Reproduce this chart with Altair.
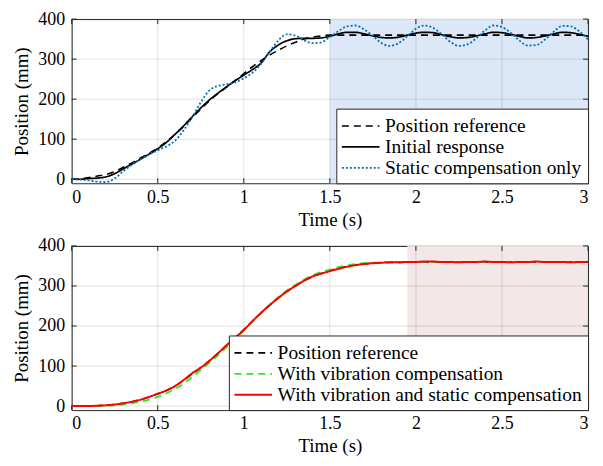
import altair as alt
import pandas as pd

# ---------------- data ----------------
time_s = [0.00, 0.05, 0.10, 0.15, 0.20, 0.25, 0.30, 0.35, 0.40, 0.45,
          0.50, 0.55, 0.60, 0.65, 0.70, 0.75, 0.80, 0.85, 0.90, 0.95,
          1.00, 1.05, 1.10, 1.15, 1.20, 1.25, 1.30, 1.35, 1.40, 1.45,
          1.50, 1.55, 1.60, 1.65, 1.70, 1.75, 1.80, 1.85, 1.90, 1.95,
          2.00, 2.05, 2.10, 2.15, 2.20, 2.25, 2.30, 2.35, 2.40, 2.45,
          2.50, 2.55, 2.60, 2.65, 2.70, 2.75, 2.80, 2.85, 2.90, 2.95,
          3.00]

top_reference = [0, 1, 4, 8, 12, 19, 30, 41, 53, 65,
                 78, 94, 112, 132, 154, 175, 196, 214, 230, 247,
                 264, 281, 296, 310, 322, 333, 342, 350, 355, 358,
                 360, 360, 360, 360, 360, 360, 360, 360, 360, 360,
                 360, 360, 360, 360, 360, 360, 360, 360, 360, 360,
                 360, 360, 360, 360, 360, 360, 360, 360, 360, 360,
                 360]

top_initial = [0, 0, 2, 3, 6, 14, 26, 38, 50, 63,
               76, 92, 112, 133, 156, 178, 198, 215, 231, 246,
               260, 274, 290, 318, 335, 346, 351, 352, 352, 353,
               357, 363, 367, 367, 363, 358, 354, 353, 355, 360,
               365, 367, 366, 361, 356, 353, 354, 358, 363, 367,
               366, 362, 357, 353, 354, 358, 363, 367, 366, 362,
               357]

top_static = [0, -1, -3, -6, -7, 2, 20, 36, 50, 62,
              72, 82, 96, 122, 155, 192, 222, 233, 237, 242,
              252, 266, 288, 318, 346, 362, 359, 347, 340, 342,
              355, 370, 382, 384, 374, 358, 340, 333, 340, 357,
              376, 384, 378, 362, 343, 333, 337, 352, 371, 384,
              380, 366, 347, 334, 335, 349, 368, 383, 382, 369,
              349]

bot_reference = [0, 0, 0, 1, 2, 4, 7, 11, 16, 23,
                 30, 39, 50, 64, 80, 96, 113, 132, 152, 171,
                 191, 212, 232, 252, 270, 286, 300, 313, 323, 331,
                 338, 344, 349, 353, 355, 357, 358, 359, 359, 360,
                 360, 360, 360, 360, 360, 360, 360, 360, 360, 360,
                 360, 360, 360, 360, 360, 360, 360, 360, 360, 360,
                 360]

bot_vibration = [0, 0, 0, 0, 1, 2, 4, 7, 11, 16,
                 23, 32, 43, 56, 73, 90, 108, 127, 147, 168,
                 189, 211, 233, 253, 272, 289, 303, 316, 327, 335,
                 341, 347, 351, 355, 357, 358, 359, 360, 360, 360,
                 360, 360, 360, 360, 360, 360, 360, 360, 360, 360,
                 360, 360, 360, 360, 360, 360, 360, 360, 360, 360,
                 360]

bot_vib_static = [0, 0, 0, 1, 2, 4, 7, 11, 16, 23,
                  31, 39, 50, 65, 82, 96, 113, 132, 152, 171,
                  190, 212, 233, 252, 270, 286, 300, 313, 324, 331,
                  337, 343, 348, 352, 355, 357, 358, 359, 359, 360,
                  360, 361, 361, 360, 360, 359, 360, 360, 361, 360,
                  360, 359, 360, 360, 361, 360, 360, 360, 359, 360,
                  360]

top_names = ["Position reference", "Initial response", "Static compensation only"]
bot_names = ["Position reference", "With vibration compensation",
             "With vibration and static compensation"]

x_ticks = [0, 0.5, 1, 1.5, 2, 2.5, 3]
y_ticks = [0, 100, 200, 300, 400]
top_shade = [1.5, 3.0]
bot_shade = [1.95, 3.0]

# ---------------- styling ----------------
W, H = 519, 165
FONT = "Liberation Serif"
xs = alt.Scale(domain=[0, 3], nice=False, zero=False)
ys = alt.Scale(domain=[-10, 400], nice=False, zero=False)

X_AX = alt.Axis(values=x_ticks, format="~g", title="Time (s)", grid=False,
                ticks=False, domain=False, labelPadding=5, titlePadding=4)
Y_AX = alt.Axis(values=y_ticks, title="Position (mm)", grid=False,
                ticks=False, domain=False, labelPadding=7, titlePadding=6)


def panel(names, series, colors, dashes, widths, shade, shade_color):
    rows = []
    for name, vals in zip(names, series):
        for t, v in zip(time_s, vals):
            rows.append({"t": t, "v": v, "s": name})
    df = pd.DataFrame(rows)
    xt = pd.DataFrame({"t": x_ticks})
    yt = pd.DataFrame({"v": y_ticks})
    sh = pd.DataFrame({"a": [shade[0]], "b": [shade[1]]})

    rect = alt.Chart(sh).mark_rect(color=shade_color).encode(
        x=alt.X("a:Q", scale=xs, axis=X_AX), x2="b:Q",
        y=alt.value(0), y2=alt.value(H))
    xgrid = alt.Chart(xt).mark_rule(color="black", opacity=0.12, strokeWidth=1).encode(
        x=alt.X("t:Q", scale=xs, axis=X_AX), y=alt.value(0), y2=alt.value(H))
    ygrid = alt.Chart(yt).mark_rule(color="black", opacity=0.12, strokeWidth=1).encode(
        y=alt.Y("v:Q", scale=ys, axis=Y_AX), x=alt.value(0), x2=alt.value(W))
    xtb = alt.Chart(xt).mark_rule(color="#262626").encode(
        x=alt.X("t:Q", scale=xs, axis=X_AX), y=alt.value(H - 5), y2=alt.value(H))
    xtt = alt.Chart(xt).mark_rule(color="#262626").encode(
        x=alt.X("t:Q", scale=xs, axis=X_AX), y=alt.value(0), y2=alt.value(5))
    ytl = alt.Chart(yt).mark_rule(color="#262626").encode(
        y=alt.Y("v:Q", scale=ys, axis=Y_AX), x=alt.value(0), x2=alt.value(5))
    ytr = alt.Chart(yt).mark_rule(color="#262626").encode(
        y=alt.Y("v:Q", scale=ys, axis=Y_AX), x=alt.value(W - 5), x2=alt.value(W))

    lines = alt.Chart(df).mark_line(interpolate="monotone").encode(
        x=alt.X("t:Q", scale=xs, axis=X_AX),
        y=alt.Y("v:Q", scale=ys, axis=Y_AX),
        color=alt.Color("s:N", scale=alt.Scale(domain=names, range=colors),
                        legend=alt.Legend(title=None)),
        strokeDash=alt.StrokeDash("s:N", scale=alt.Scale(domain=names, range=dashes),
                                  legend=alt.Legend(title=None)),
        strokeWidth=alt.StrokeWidth("s:N", scale=alt.Scale(domain=names, range=widths),
                                    legend=None),
    )

    return alt.layer(rect, xgrid, ygrid, xtb, xtt, ytl, ytr, lines).properties(
        width=W, height=H)


top = panel(top_names, [top_reference, top_initial, top_static],
            ["#000000", "#000000", "#0072BD"],
            [[7, 5], [1, 0], [2, 2]], [1.6, 1.8, 2.2],
            top_shade, "#dce8f7")
bot = panel(bot_names, [bot_reference, bot_vibration, bot_vib_static],
            ["#000000", "#22ee22", "#ff0000"],
            [[7, 5], [7, 5], [1, 0]], [1.6, 2.0, 1.8],
            bot_shade, "#f3e7e7")

chart = alt.vconcat(top, bot, spacing=6).resolve_scale(
    color="independent", strokeDash="independent", strokeWidth="independent"
).properties(padding={"left": 4, "top": 0, "right": 2, "bottom": 0}).configure(
    font=FONT
).configure_view(stroke="#262626", strokeWidth=1).configure_axis(
    labelFont=FONT, titleFont=FONT, labelFontSize=18, titleFontSize=19,
    labelColor="black", titleColor="black", titleFontWeight="normal"
).configure_legend(
    orient="bottom-right", offset=0, padding=6, strokeColor="#262626",
    fillColor="white", labelFont=FONT, labelFontSize=19.5, labelColor="black",
    labelLimit=500, symbolType="M-1.8,0H1.8", symbolSize=441, symbolStrokeWidth=2,
    symbolOffset=7, rowPadding=0, labelOffset=13, cornerRadius=0, zindex=2
)

chart.save("out.html", embed_options={"renderer": "svg", "actions": False})
